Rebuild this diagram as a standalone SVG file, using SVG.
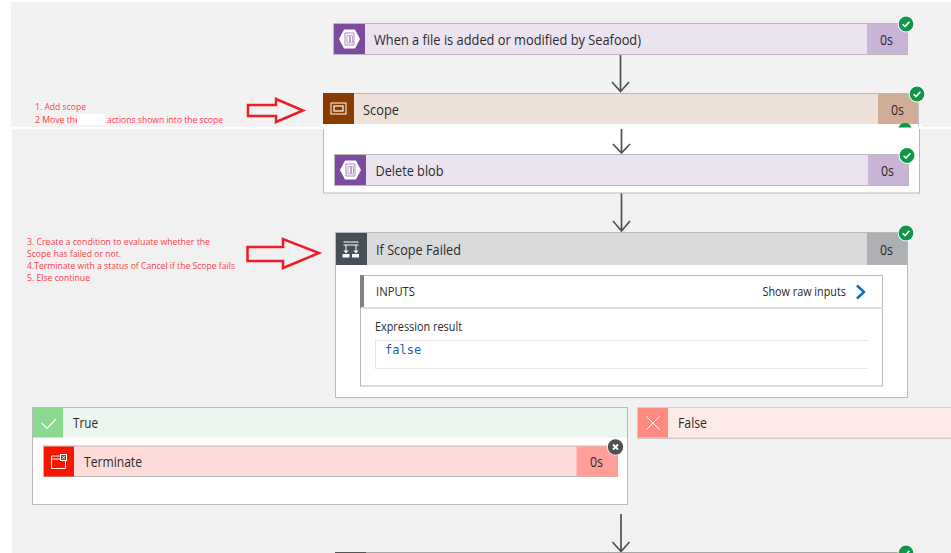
<svg xmlns="http://www.w3.org/2000/svg" width="951" height="553" viewBox="0 0 951 553">
<style>
text{font-family:"Open Sans","Noto Sans","Liberation Sans",sans-serif;fill:#2b2b2b}
.t{font-size:14px}
.s{font-size:12px}
.r{font-size:8.7px;fill:#f9404e}
.bar{stroke:#b9b9b9;stroke-width:1}
.c{fill:none;stroke:#505050;stroke-width:1.7}
.ra{fill:none;stroke:#ee1c25;stroke-width:2.5}
.ck{fill:none;stroke:#fff;stroke-width:1.6}
.ic{fill:none;stroke:#fff;stroke-width:1}
.b{fill:#fff;stroke:#b9b9b9;stroke-width:1}
</style>
<defs>
<g id="ok"><circle r="8.4" fill="#fff"/><circle r="7.4" fill="#0f9648"/><path class="ck" d="M-3.4 .2L-1 2.6L3.4-2.2"/></g>
<g id="hex"><path d="M-10.500 0L-5.500-9.500H5.500L10.500 0L5.500 9.500H-5.500Z" fill="#fff"/><path d="M-4.500-6H4.500V6H-4.500Z" fill="none" stroke="#a98cc0" stroke-width="1"/><path d="M-2.500-3.500H0V4H-2.500ZM1-3.500H3V4H1Z" fill="none" stroke="#a98cc0" stroke-width=".8"/></g>
</defs>
<rect width="951" height="553" fill="#fff"/>
<rect x="11" y="2" width="940" height="125" fill="#f2f2f2"/>
<rect x="12" y="129" width="939" height="424" fill="#f1f1f1"/>

<g id="connectors">
<path class="c" d="M620.500 54V91M612 82L620.500 91.500L629 82"/>
<path class="c" d="M621.500 193V231M613 221L621.500 231L630 221"/>
<path class="c" d="M621 514V551M612.500 542L621 551.500L629.500 542"/>
</g>

<g id="trigger">
<rect class="bar" x="333.500" y="23.500" width="574" height="31" fill="#ebe3f0"/>
<rect x="334" y="24" width="31" height="30" fill="#7c4a9e"/>
<rect x="867" y="24" width="40" height="30" fill="#c9b3d6"/>
<use href="#hex" x="349.500" y="39"/>
<text class="t" x="374" y="45" textLength="267" lengthAdjust="spacingAndGlyphs">When a file is added or modified by Seafood)</text>
<text class="t" x="880" y="45" textLength="13" lengthAdjust="spacingAndGlyphs">0s</text>
<use href="#ok" x="906" y="24"/>
</g>

<g id="scope">
<rect class="b" x="323.500" y="124" width="596" height="69"/>
<rect x="320" y="124" width="602" height="5" fill="#fff"/>
<rect x="323" y="93" width="595" height="31" fill="#eee1d9"/>
<path d="M323 93.500H918" stroke="#b9b9b9" fill="none"/>
<path d="M918.500 93V127" stroke="#c4c4c4" fill="none"/>
<rect x="323" y="93" width="31" height="31" fill="#8a3b00"/>
<rect x="878" y="94" width="40" height="30" fill="#d0ad96"/>
<rect class="ic" x="331" y="103" width="15" height="11"/>
<rect x="334" y="106" width="9" height="5" fill="none" stroke="#fff" stroke-width="1.200"/>
<text class="t" x="363" y="114.500" textLength="36" lengthAdjust="spacingAndGlyphs">Scope</text>
<text class="t" x="891" y="114.500" textLength="13" lengthAdjust="spacingAndGlyphs">0s</text>
<use href="#ok" x="917" y="94"/>
<path d="M898.500 127.500A7 7 0 0 1 911.500 127.500Z" fill="#0f9648"/>
<path class="c" d="M621.500 129V152.500M613 144L621.500 153L630 144"/>
</g>

<g id="delete-blob">
<rect class="bar" x="334.500" y="154.500" width="574" height="31" fill="#ebe3f0"/>
<rect x="335" y="155" width="31" height="30" fill="#7c4a9e"/>
<rect x="868" y="155" width="40" height="30" fill="#c9b3d6"/>
<use href="#hex" x="350.500" y="170"/>
<text class="t" x="375.500" y="175.500" textLength="68" lengthAdjust="spacingAndGlyphs">Delete blob</text>
<text class="t" x="881" y="175.500" textLength="13" lengthAdjust="spacingAndGlyphs">0s</text>
<use href="#ok" x="907" y="155.500"/>
</g>

<g id="if-scope-failed">
<rect class="b" x="335.500" y="232.500" width="572" height="165" stroke-width="1.200"/>
<rect x="336" y="233" width="571" height="32" fill="#d9dadc"/>
<rect x="336" y="233" width="31" height="32" fill="#474f59"/>
<rect x="867" y="233" width="40" height="32" fill="#aeafb2"/>
<path class="ic" d="M343.500 242H358.500M343.500 245H358.500M346 245V251M356 245V251"/>
<path d="M342.500 254H349.500V257.500H342.500ZM352 254H359V257.500H352Z" fill="#fff"/>
<path d="M343.500 250.500L346 253.500L348.500 250.500ZM353.500 250.500L356 253.500L358.500 250.500Z" fill="#fff"/>
<text class="t" x="376" y="254.500" textLength="85" lengthAdjust="spacingAndGlyphs">If Scope Failed</text>
<text class="t" x="880" y="254.500" textLength="13" lengthAdjust="spacingAndGlyphs">0s</text>
<use href="#ok" x="906" y="233"/>
<rect class="b" x="360.500" y="275.500" width="522" height="110.500"/>
<rect x="360" y="275" width="4" height="33" fill="#7f8288"/>
<path d="M361 308H883" stroke="#dedede" stroke-width="2" fill="none"/>
<text class="s" x="376" y="296" textLength="39" lengthAdjust="spacingAndGlyphs">INPUTS</text>
<text class="s" x="762.500" y="296" textLength="83.500" lengthAdjust="spacingAndGlyphs">Show raw inputs</text>
<path d="M857 285.500L864 292L857 298.500" fill="none" stroke="#0f6cbd" stroke-width="2.400"/>
<text class="s" x="375" y="331" textLength="87" lengthAdjust="spacingAndGlyphs">Expression result</text>
<path d="M375 340.500H868M375 368.500H868M375.500 340V369" fill="none" stroke="#e6e6e6"/>
<text x="385" y="354" font-size="12px" style="font-family:'DejaVu Sans Mono','Liberation Mono',monospace;fill:#1f5fa8">false</text>
</g>

<g id="true-branch">
<rect class="b" x="32.500" y="407.500" width="595" height="97"/>
<rect x="33" y="408" width="594" height="29.500" fill="#ebf7ee"/>
<rect x="33" y="408" width="30" height="29.500" fill="#8ad98f"/>
<path d="M41.500 423L47 428.500L56 419" fill="none" stroke="#fff" stroke-width="1.100"/>
<text class="t" x="73" y="428" textLength="25" lengthAdjust="spacingAndGlyphs">True</text>
</g>

<g id="terminate">
<rect class="bar" x="43.500" y="446" width="574" height="30.500" fill="#ffdbd9"/>
<rect x="44" y="446.500" width="30" height="30" fill="#f71600"/>
<rect x="576.500" y="446.500" width="40.500" height="30" fill="#ff9f97"/>
<path class="ic" d="M60 456H51.500V468.500H65.500V461M51.500 459H60"/>
<rect x="60.500" y="454.500" width="6" height="6" class="ic"/>
<path d="M62 456L65 459M65 456L62 459" stroke="#fff" stroke-width=".8" fill="none"/>
<text class="t" x="84" y="467" textLength="58" lengthAdjust="spacingAndGlyphs">Terminate</text>
<text class="t" x="590" y="467" textLength="13" lengthAdjust="spacingAndGlyphs">0s</text>
<circle cx="615.500" cy="447" r="8.500" fill="#fff"/>
<circle cx="615.500" cy="447" r="7.700" fill="#505050"/>
<path d="M613 444.500L618 449.500M618 444.500L613 449.500" stroke="#fff" stroke-width="1.800" fill="none"/>
</g>

<g id="false-branch">
<rect x="637" y="407" width="314" height="32" fill="#d0cdcd"/>
<rect x="638" y="408" width="313" height="29.500" fill="#ffeaea"/>
<rect x="638" y="408" width="30" height="29.500" fill="#ff8a82"/>
<path d="M646.500 416.500L659.500 429.500M659.500 416.500L646.500 429.500" stroke="#fff" stroke-width="1" fill="none"/>
<text class="t" x="678" y="428" textLength="29" lengthAdjust="spacingAndGlyphs">False</text>
</g>

<g id="next-action">
<path d="M335 552.500H898" stroke="#a8a8a8" stroke-width="1" fill="none"/>
<rect x="335" y="552" width="31" height="1" fill="#555"/>
<use href="#ok" x="906" y="553"/>
</g>

<g id="annotation-1">
<path class="ra" d="M248 105H276V99L303 110.500L276 122V116H248Z"/>
<text class="r" x="35" y="110" textLength="51" lengthAdjust="spacingAndGlyphs">1. Add scope</text>
<text class="r" x="35" y="122.500">2 Move the</text>
<rect x="77" y="114" width="28" height="11" fill="#fff"/>
<text class="r" x="107" y="122.500" textLength="116" lengthAdjust="spacingAndGlyphs">actions shown into the scope</text>
</g>

<g id="annotation-2">
<path class="ra" d="M247.500 247H283V239L319 253L283 268V261H247.500Z"/>
<text class="r" x="27" y="245" textLength="183" lengthAdjust="spacingAndGlyphs">3. Create a condition to evaluate whether the</text>
<text class="r" x="27" y="257" textLength="94" lengthAdjust="spacingAndGlyphs">Scope has failed or not.</text>
<text class="r" x="27" y="269" textLength="208" lengthAdjust="spacingAndGlyphs">4.Terminate with a status of Cancel if the Scope fails</text>
<text class="r" x="27" y="281" textLength="63" lengthAdjust="spacingAndGlyphs">5. Else continue</text>
</g>
</svg>
